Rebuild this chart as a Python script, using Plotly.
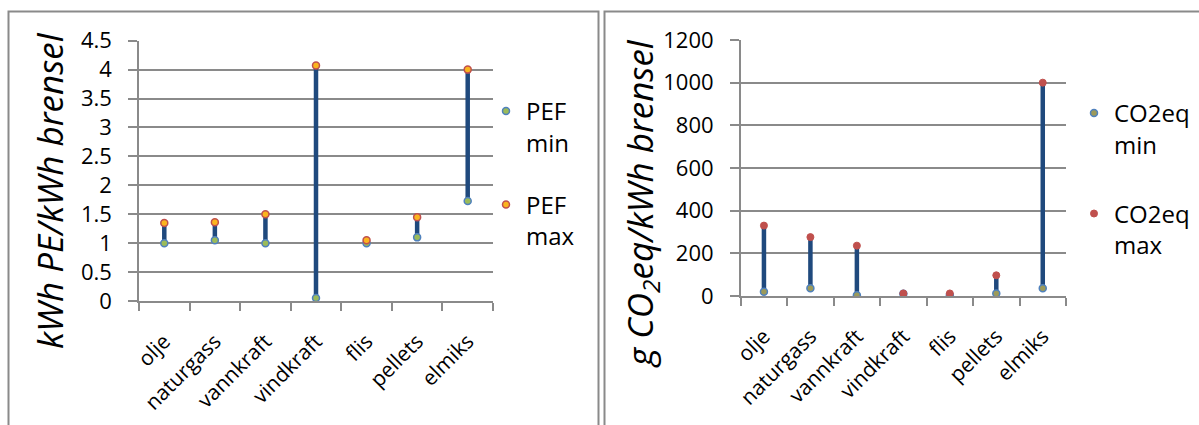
import plotly.graph_objects as go

categories = ["olje", "naturgass", "vannkraft", "vindkraft", "flis", "pellets", "elmiks"]
pef_min = [1.0, 1.05, 1.0, 0.05, 1.0, 1.1, 1.73]
pef_max = [1.35, 1.36, 1.5, 4.07, 1.05, 1.45, 4.0]
co2_min = [20, 36, 4, 10, 4, 12, 36]
co2_max = [330, 276, 236, 12, 12, 97, 1000]
pef_ticks = [0, 0.5, 1, 1.5, 2, 2.5, 3, 3.5, 4, 4.5]
co2_ticks = [0, 200, 400, 600, 800, 1000, 1200]

W, H = 1199, 425
FONT = "Open Sans"
GRAY = "#8a8a8a"
LINE = "#1F497D"


def px(x):
    return x / W


def py(y):
    return 1 - y / H


def segs(cats, lo, hi):
    xs, ys = [], []
    for c, a, b in zip(cats, lo, hi):
        xs += [c, c, None]
        ys += [a, b, None]
    return xs, ys


fig = go.Figure()

# Left chart
xs, ys = segs(categories, pef_min, pef_max)
fig.add_trace(go.Scatter(x=xs, y=ys, mode="lines", line=dict(color=LINE, width=4.5),
                         showlegend=False, hoverinfo="skip", xaxis="x", yaxis="y"))
fig.add_trace(go.Scatter(x=categories, y=pef_min, mode="markers", name="PEF<br>min",
                         marker=dict(size=7, color="#9BBB59", line=dict(color="#4F81BD", width=1.5)),
                         legendgroup="a", legend="legend", xaxis="x", yaxis="y"))
fig.add_trace(go.Scatter(x=categories, y=pef_max, mode="markers", name="PEF<br>max",
                         marker=dict(size=7, color="#FBB51E", line=dict(color="#C0504D", width=1.5)),
                         legendgroup="b", legend="legend", xaxis="x", yaxis="y"))

# Right chart
xs, ys = segs(categories, co2_min, co2_max)
fig.add_trace(go.Scatter(x=xs, y=ys, mode="lines", line=dict(color=LINE, width=4.5),
                         showlegend=False, hoverinfo="skip", xaxis="x2", yaxis="y2"))
fig.add_trace(go.Scatter(x=categories, y=co2_min, mode="markers", name="CO2eq<br>min",
                         marker=dict(size=7, color="#9C9A5A", line=dict(color="#4F81BD", width=1.5)),
                         legendgroup="c", legend="legend2", xaxis="x2", yaxis="y2"))
fig.add_trace(go.Scatter(x=categories, y=co2_max, mode="markers", name="CO2eq<br>max",
                         marker=dict(size=7, color="#C0504D", line=dict(color="#C0504D", width=1)),
                         legendgroup="d", legend="legend2", xaxis="x2", yaxis="y2"))

xcommon = dict(type="category", categoryorder="array", categoryarray=categories,
               range=[-0.5, len(categories) - 0.5], showgrid=False, showline=True,
               linecolor=GRAY, linewidth=1.5, ticks="outside", tickson="boundaries",
               ticklen=8, tickwidth=1.5, tickcolor=GRAY, tickangle=-45,
               tickfont=dict(family=FONT, size=21, color="black"), ticklabelstandoff=18,
               fixedrange=True, automargin=False)
ycommon = dict(showgrid=True, gridcolor=GRAY, gridwidth=1.5, showline=True,
               linecolor=GRAY, linewidth=1.5, ticks="outside", ticklen=9, tickwidth=1.5,
               tickcolor=GRAY, zeroline=False, tickmode="array",
               tickfont=dict(family=FONT, size=22, color="black"), ticklabelstandoff=12,
               fixedrange=True, automargin=False)

fig.update_layout(
    width=W, height=H,
    margin=dict(l=0, r=0, t=0, b=0, autoexpand=False),
    paper_bgcolor="white", plot_bgcolor="white",
    font=dict(family=FONT, color="black"),
    xaxis=dict(domain=[px(139), px(493)], anchor="y", **xcommon),
    yaxis=dict(domain=[py(301), py(40.7)], anchor="x", range=[0, 4.5],
               tickvals=pef_ticks, ticktext=[f"{v:g}" for v in pef_ticks], **ycommon),
    xaxis2=dict(domain=[px(740.7), px(1066)], anchor="y2", **xcommon),
    yaxis2=dict(domain=[py(296), py(40)], anchor="x2", range=[0, 1200],
                tickvals=co2_ticks, ticktext=[str(v) for v in co2_ticks], **ycommon),
    legend=dict(x=px(486), y=py(89), xanchor="left", yanchor="top", valign="top",
                tracegroupgap=28, traceorder="grouped",
                font=dict(family=FONT, size=24, color="black"), bgcolor="rgba(0,0,0,0)"),
    legend2=dict(x=px(1074), y=py(91), xanchor="left", yanchor="top", valign="top",
                 tracegroupgap=35, traceorder="grouped",
                 font=dict(family=FONT, size=24, color="black"), bgcolor="rgba(0,0,0,0)"),
    shapes=[
        dict(type="rect", xref="paper", yref="paper", x0=px(8.5), x1=px(598.5),
             y0=-0.1, y1=py(11.5), line=dict(color=GRAY, width=2)),
        dict(type="rect", xref="paper", yref="paper", x0=px(604.5), x1=1.1,
             y0=-0.1, y1=py(11.5), line=dict(color=GRAY, width=2)),
    ],
    annotations=[
        dict(text="<i>kWh PE/kWh brensel</i>", xref="paper", yref="paper",
             x=px(49), y=py(191), xanchor="center", yanchor="middle", textangle=-90,
             showarrow=False, font=dict(family=FONT, size=35, color="black")),
        dict(text="<i>g CO<sub>2</sub>eq/kWh brensel</i>", xref="paper", yref="paper",
             x=px(641), y=py(204), xanchor="center", yanchor="middle", textangle=-90,
             showarrow=False, font=dict(family=FONT, size=35, color="black")),
    ],
)

fig.write_html("out.html")
